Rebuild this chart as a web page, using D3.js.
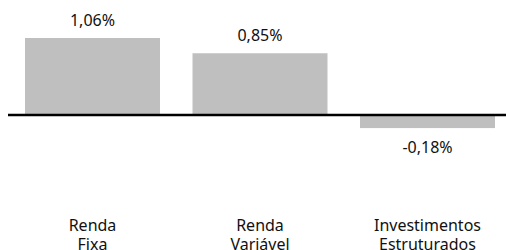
<!doctype html>
<html>
<head>
    <meta charset="utf-8">
    <title>rentabilidade por classe</title>
    <script src="https://d3js.org/d3.v7.min.js"></script>
    <style>
        body { margin: 0; background: #fff; }
        text { font-family: "Noto Sans", "Open Sans", sans-serif; fill: #111; }
    </style>
</head>
<body>
    <script>
        // data
        var categories = [["Renda", "Fixa"], ["Renda", "Variável"], ["Investimentos", "Estruturados"]];
        var values = [1.06, 0.85, -0.18];
        var labels = ["1,06%", "0,85%", "-0,18%"];

        var svg = d3.select("body")
                    .append("svg")
                    .attr("width", 506)
                    .attr("height", 250);

        var x = d3.scaleBand()
                  .domain(d3.range(values.length))
                  .range([25, 495])
                  .paddingInner(0.194)
                  .paddingOuter(0);

        var y = d3.scaleLinear()
                  .domain([0, 1.06])
                  .range([115, 38]);

        // bars
        svg.selectAll("rect")
            .data(values)
            .enter()
            .append("rect")
            .attr("x", function(d, i) { return x(i); })
            .attr("y", function(d) { return d >= 0 ? y(d) : y(0); })
            .attr("width", x.bandwidth())
            .attr("height", function(d) { return Math.abs(y(d) - y(0)); })
            .style("fill", "#bfbfbf");

        // zero line
        svg.append("line")
            .attr("x1", 8)
            .attr("x2", 506)
            .attr("y1", y(0))
            .attr("y2", y(0))
            .style("stroke", "#000")
            .style("stroke-width", 2.5);

        // value labels
        svg.selectAll("text.val")
            .data(values)
            .enter()
            .append("text")
            .attr("class", "val")
            .attr("x", function(d, i) { return x(i) + x.bandwidth() / 2; })
            .attr("y", function(d) { return d >= 0 ? y(d) - 12 : y(d) + 24.5; })
            .attr("text-anchor", "middle")
            .style("font-size", "16px")
            .text(function(d, i) { return labels[i]; });

        // category labels (two lines)
        var cat = svg.selectAll("text.cat")
            .data(categories)
            .enter()
            .append("text")
            .attr("class", "cat")
            .attr("text-anchor", "middle")
            .style("font-size", "16px");

        cat.selectAll("tspan")
            .data(function(d, i) { return d.map(function(s) { return { s: s, i: i }; }); })
            .enter()
            .append("tspan")
            .attr("x", function(d) { return x(d.i) + x.bandwidth() / 2; })
            .attr("y", function(d, j) { return 231 + j * 19; })
            .text(function(d) { return d.s; });
    </script>
</body>
</html>
